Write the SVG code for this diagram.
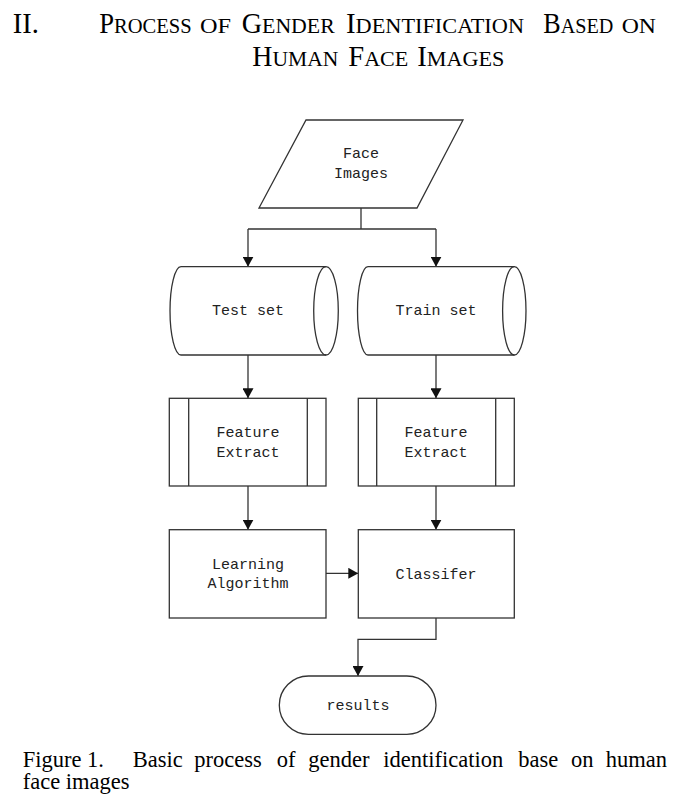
<svg xmlns="http://www.w3.org/2000/svg" width="686" height="809" viewBox="0 0 686 809">
<defs>
<style>
.shape{fill:#fff;stroke:#333;stroke-width:1.3}
.line{fill:none;stroke:#333;stroke-width:1.3}
.lbl{font-family:"Liberation Mono","DejaVu Sans Mono",monospace;font-size:15px;fill:#222;text-anchor:middle}
.ttl{font-family:"Liberation Serif","Times New Roman",serif;fill:#000}
.cap{font-family:"Liberation Serif","Times New Roman",serif;font-size:22.5px;fill:#000}
.big{font-size:28.5px}
.sm{font-size:22px}
</style>
<marker id="arr" markerUnits="userSpaceOnUse" markerWidth="10" markerHeight="11" viewBox="0 0 10 11" refX="10" refY="5.5" orient="auto">
<path d="M0,0 L10,5.5 L0,11 Z" fill="#111"/>
</marker>
</defs>
<rect width="686" height="809" fill="#fff"/>

<g id="title">
<text class="ttl big" x="12.7" y="32.5">II.</text>
<text class="ttl" x="99.3" y="32.5" textLength="92.4" lengthAdjust="spacingAndGlyphs"><tspan class="big">P</tspan><tspan class="sm">ROCESS</tspan></text>
<text class="ttl sm" x="200" y="32.5" textLength="31" lengthAdjust="spacingAndGlyphs">OF</text>
<text class="ttl" x="241.7" y="32.5" textLength="93" lengthAdjust="spacingAndGlyphs"><tspan class="big">G</tspan><tspan class="sm">ENDER</tspan></text>
<text class="ttl" x="346" y="32.5" textLength="178" lengthAdjust="spacingAndGlyphs"><tspan class="big">I</tspan><tspan class="sm">DENTIFICATION</tspan></text>
<text class="ttl" x="543.3" y="32.5" textLength="70" lengthAdjust="spacingAndGlyphs"><tspan class="big">B</tspan><tspan class="sm">ASED</tspan></text>
<text class="ttl sm" x="621.7" y="32.5" textLength="34.3" lengthAdjust="spacingAndGlyphs">ON</text>
<text class="ttl" x="252.3" y="65.5" textLength="86" lengthAdjust="spacingAndGlyphs"><tspan class="big">H</tspan><tspan class="sm">UMAN</tspan></text>
<text class="ttl" x="348.3" y="65.5" textLength="60" lengthAdjust="spacingAndGlyphs"><tspan class="big">F</tspan><tspan class="sm">ACE</tspan></text>
<text class="ttl" x="417.3" y="65.5" textLength="87" lengthAdjust="spacingAndGlyphs"><tspan class="big">I</tspan><tspan class="sm">MAGES</tspan></text>
</g>

<g id="connectors">
<path class="line" d="M361,208 V229 M248,229 H436"/>
<path class="line" d="M248,229 V266.7" marker-end="url(#arr)"/>
<path class="line" d="M436,229 V266.7" marker-end="url(#arr)"/>
<path class="line" d="M248,355 V398.3" marker-end="url(#arr)"/>
<path class="line" d="M436,355 V398.3" marker-end="url(#arr)"/>
<path class="line" d="M248,486 V529.7" marker-end="url(#arr)"/>
<path class="line" d="M436,486 V529.7" marker-end="url(#arr)"/>
<path class="line" d="M326,573.3 H358.3" marker-end="url(#arr)"/>
<path class="line" d="M436,618 V639.3 H358 V676" marker-end="url(#arr)"/>
</g>

<g id="face-images">
<path class="shape" d="M306,120 L463,120 L417,208 L259,208 Z"/>
<text class="lbl" x="361" y="158">Face</text>
<text class="lbl" x="361" y="178">Images</text>
</g>

<g id="test-set">
<path class="shape" d="M181,266.7 H326 A12.3,44.15 0 0 1 326,355 H181 A11,44.15 0 0 1 181,266.7 Z"/>
<path class="line" d="M326,355 A12.3,44.15 0 0 1 326,266.7"/>
<text class="lbl" x="248" y="314.5">Test set</text>
</g>

<g id="train-set">
<path class="shape" d="M368,266.7 H514.3 A11.7,44.15 0 0 1 514.3,355 H368 A10.5,44.15 0 0 1 368,266.7 Z"/>
<path class="line" d="M514.3,355 A11.7,44.15 0 0 1 514.3,266.7"/>
<text class="lbl" x="436" y="314.5">Train set</text>
</g>

<g id="feature-extract-test">
<rect class="shape" x="169.3" y="398.3" width="156.7" height="87.7"/>
<path class="line" d="M188.7,398.3 V486 M307.3,398.3 V486"/>
<text class="lbl" x="248" y="437">Feature</text>
<text class="lbl" x="248" y="456.5">Extract</text>
</g>

<g id="feature-extract-train">
<rect class="shape" x="358.3" y="398.3" width="156" height="87.7"/>
<path class="line" d="M376.7,398.3 V486 M495.7,398.3 V486"/>
<text class="lbl" x="436" y="437">Feature</text>
<text class="lbl" x="436" y="456.5">Extract</text>
</g>

<g id="learning-algorithm">
<rect class="shape" x="169.3" y="529.7" width="156.7" height="88.3"/>
<text class="lbl" x="248" y="569">Learning</text>
<text class="lbl" x="248" y="588">Algorithm</text>
</g>

<g id="classifer">
<rect class="shape" x="358.3" y="529.7" width="156" height="88.3"/>
<text class="lbl" x="436" y="579">Classifer</text>
</g>

<g id="results">
<rect class="shape" x="279.3" y="676" width="156.7" height="58.3" rx="29.15" ry="29.15"/>
<text class="lbl" x="358" y="710">results</text>
</g>

<g id="caption">
<text class="cap" x="22.7" y="766.7">Figure 1.</text>
<text class="cap" x="132.7" y="766.7">Basic</text>
<text class="cap" x="194.3" y="766.7">process</text>
<text class="cap" x="276.7" y="766.7">of</text>
<text class="cap" x="308.3" y="766.7">gender</text>
<text class="cap" x="383.3" y="766.7">identification</text>
<text class="cap" x="518.3" y="766.7">base</text>
<text class="cap" x="571" y="766.7">on</text>
<text class="cap" x="605.7" y="766.7">human</text>
<text class="cap" x="22.7" y="789.3">face images</text>
</g>
</svg>
